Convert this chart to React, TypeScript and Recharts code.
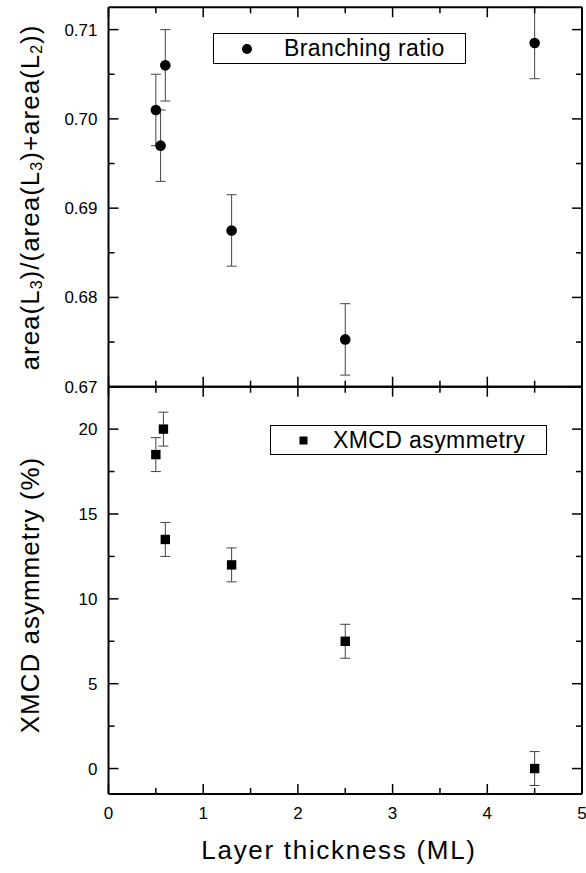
import React from 'react';
import { ScatterChart, Scatter, XAxis, YAxis, ErrorBar, Legend } from 'recharts';

const FONT = '"Liberation Sans", Arial, Helvetica, sans-serif';

// ---- data ----
const thicknessBR = [0.5, 0.55, 0.6, 1.3, 2.5, 4.5];
const branchingRatio = [0.701, 0.697, 0.706, 0.6875, 0.6753, 0.7085];
const branchingErr = [0.004, 0.004, 0.004, 0.004, 0.004, 0.004];

const thicknessXM = [0.5, 0.58, 0.6, 1.3, 2.5, 4.5];
const xmcdAsym = [18.5, 20, 13.5, 12, 7.5, 0];
const xmcdErr = [1, 1, 1, 1, 1, 1];

const xTicks = [0, 0.5, 1, 1.5, 2, 2.5, 3, 3.5, 4, 4.5, 5];
const xMajor = [0, 1, 2, 3, 4, 5];
const brTicks = [0.67, 0.675, 0.68, 0.685, 0.69, 0.695, 0.7, 0.705, 0.71];
const brMajor = [0.67, 0.68, 0.69, 0.7, 0.71];
const xmTicks = [0, 2.5, 5, 7.5, 10, 12.5, 15, 17.5, 20];
const xmMajor = [0, 5, 10, 15, 20];

const xDomain = [0, 5];
const brDomain = [0.67, 0.7125];
const xmDomain = [-1.5, 22.5];

const brData = thicknessBR.map((x, i) => ({ x, y: branchingRatio[i], err: branchingErr[i] }));
const xmData = thicknessXM.map((x, i) => ({ x, y: xmcdAsym[i], err: xmcdErr[i] }));

const isMajor = (v: number, majors: number[]) => majors.some((m) => Math.abs(m - v) < 1e-9);

const MAJ = 10;
const MIN = 6;

type Side = 'bottom' | 'top' | 'left' | 'right';

const makeTick =
  (side: Side, majors: number[], fmt?: (v: number) => string) =>
  (props: any) => {
    const { x, y, payload } = props;
    const v = payload.value as number;
    const major = isMajor(v, majors);
    const len = major ? MAJ : MIN;
    let line;
    let label = null;
    if (side === 'bottom') {
      line = <line x1={x} x2={x} y1={y} y2={y - len} stroke="#000" strokeWidth={1.5} />;
      if (fmt && major)
        label = (
          <text x={x} y={y + 25} textAnchor="middle" fontSize={17} fontFamily={FONT} fill="#000">
            {fmt(v)}
          </text>
        );
    } else if (side === 'top') {
      line = <line x1={x} x2={x} y1={y} y2={y + len} stroke="#000" strokeWidth={1.5} />;
    } else if (side === 'left') {
      line = <line x1={x} x2={x + len} y1={y} y2={y} stroke="#000" strokeWidth={1.5} />;
      if (fmt && major)
        label = (
          <text x={x - 11} y={y + 6} textAnchor="end" fontSize={17} fontFamily={FONT} fill="#000">
            {fmt(v)}
          </text>
        );
    } else {
      line = <line x1={x} x2={x - len} y1={y} y2={y} stroke="#000" strokeWidth={1.5} />;
    }
    return (
      <g>
        {line}
        {label}
      </g>
    );
  };

const circleShape = (p: any) => <circle cx={p.cx} cy={p.cy} r={5.3} fill="#000" />;
const squareShape = (p: any) => <rect x={p.cx - 4.7} y={p.cy - 4.7} width={9.4} height={9.4} fill="#000" />;

const axisLine = { stroke: '#000', strokeWidth: 2 };

const LegendBox = ({ width, height, marker, text }: any) => (
  <div
    style={{
      boxSizing: 'border-box',
      width,
      height,
      border: '1.5px solid #000',
      background: '#fff',
      display: 'flex',
      alignItems: 'center',
      fontFamily: FONT,
      fontSize: 23,
      color: '#000',
      letterSpacing: 0.4,
      whiteSpace: 'nowrap',
    }}
  >
    <svg width={70} height={height - 3} style={{ flex: 'none' }}>
      {marker === 'circle' ? (
        <circle cx={33} cy={(height - 3) / 2} r={5} fill="#000" />
      ) : (
        <rect x={28.5} y={(height - 3) / 2 - 4} width={8} height={8} fill="#000" />
      )}
    </svg>
    <span style={{ marginLeft: marker === 'circle' ? 0 : -8 }}>{text}</span>
  </div>
);

const yLabelTop = () => (
  <text
    transform="translate(30,197.5) rotate(-90)"
    textAnchor="middle"
    dominantBaseline="central"
    fontSize={26}
    letterSpacing={1}
    fontFamily={FONT}
    fill="#000"
  >
    area(L<tspan fontSize={16} dy={6}>3</tspan>
    <tspan dy={-6}>)/(area(L</tspan>
    <tspan fontSize={16} dy={6}>3</tspan>
    <tspan dy={-6}>)+area(L</tspan>
    <tspan fontSize={16} dy={6}>2</tspan>
    <tspan dy={-6}>))</tspan>
  </text>
);

const yLabelBottom = () => (
  <text
    transform="translate(30,595) rotate(-90)"
    textAnchor="middle"
    dominantBaseline="central"
    fontSize={26}
    letterSpacing={1}
    fontFamily={FONT}
    fill="#000"
  >
    XMCD asymmetry (%)
  </text>
);

const xLabel = () => (
  <text x={339} y={859} textAnchor="middle" fontSize={26} letterSpacing={1.7} fontFamily={FONT} fill="#000">
    Layer thickness (ML)
  </text>
);

export default function App() {
  return (
    <div style={{ position: 'absolute', left: 0, top: 0, width: 586, height: 873, background: '#fff' }}>
      <div style={{ position: 'absolute', left: 0, top: 0 }}>
        <ScatterChart width={586} height={873} margin={{ top: 3.3, left: 48.5, right: 0, bottom: 476.3 }}>
          <XAxis
            xAxisId="b"
            type="number"
            dataKey="x"
            domain={xDomain}
            ticks={xTicks}
            interval={0}
            allowDataOverflow
            height={10}
            tickSize={0}
            tickMargin={0}
            tickLine={false}
            axisLine={axisLine}
            tick={makeTick('bottom', xMajor)}
          />
          <XAxis
            xAxisId="t"
            orientation="top"
            type="number"
            dataKey="x"
            domain={xDomain}
            ticks={xTicks}
            interval={0}
            allowDataOverflow
            height={4}
            tickSize={0}
            tickMargin={0}
            tickLine={false}
            axisLine={axisLine}
            tick={makeTick('top', xMajor)}
          />
          <YAxis
            yAxisId="l"
            type="number"
            dataKey="y"
            domain={brDomain}
            ticks={brTicks}
            interval={0}
            allowDataOverflow
            width={60}
            tickSize={0}
            tickMargin={0}
            tickLine={false}
            axisLine={axisLine}
            tick={makeTick('left', brMajor, (v) => v.toFixed(2))}
            label={yLabelTop}
          />
          <YAxis
            yAxisId="r"
            orientation="right"
            type="number"
            dataKey="y"
            domain={brDomain}
            ticks={brTicks}
            interval={0}
            allowDataOverflow
            width={4}
            tickSize={0}
            tickMargin={0}
            tickLine={false}
            axisLine={axisLine}
            tick={makeTick('right', brMajor)}
          />
          <Scatter
            data={brData}
            xAxisId="b"
            yAxisId="l"
            shape={circleShape}
            isAnimationActive={false}
          >
            <ErrorBar dataKey="err" direction="y" width={5} stroke="#444" strokeWidth={1} />
          </Scatter>
          <Scatter data={brData} xAxisId="t" yAxisId="r" shape={() => <g />} isAnimationActive={false} />
          <Legend
            layout="horizontal"
            verticalAlign="middle"
            align="center"
            wrapperStyle={{ position: 'absolute', left: 213, top: 33, width: 253, height: 31, margin: 0, padding: 0 }}
            content={() => <LegendBox width={253} height={31} marker="circle" text="Branching ratio" />}
          />
        </ScatterChart>
      </div>
      <div style={{ position: 'absolute', left: 0, top: 0 }}>
        <ScatterChart width={586} height={873} margin={{ top: 382.7, left: 48.5, right: 0, bottom: 19 }}>
          <XAxis
            xAxisId="b"
            type="number"
            dataKey="x"
            domain={xDomain}
            ticks={xTicks}
            interval={0}
            allowDataOverflow
            height={60}
            tickSize={0}
            tickMargin={0}
            tickLine={false}
            axisLine={axisLine}
            tick={makeTick('bottom', xMajor, (v) => String(v))}
            label={xLabel}
          />
          <XAxis
            xAxisId="t"
            orientation="top"
            type="number"
            dataKey="x"
            domain={xDomain}
            ticks={xTicks}
            interval={0}
            allowDataOverflow
            height={4}
            tickSize={0}
            tickMargin={0}
            tickLine={false}
            axisLine={axisLine}
            tick={makeTick('top', xMajor)}
          />
          <YAxis
            yAxisId="l"
            type="number"
            dataKey="y"
            domain={xmDomain}
            ticks={xmTicks}
            interval={0}
            allowDataOverflow
            width={60}
            tickSize={0}
            tickMargin={0}
            tickLine={false}
            axisLine={axisLine}
            tick={makeTick('left', xmMajor, (v) => String(v))}
            label={yLabelBottom}
          />
          <YAxis
            yAxisId="r"
            orientation="right"
            type="number"
            dataKey="y"
            domain={xmDomain}
            ticks={xmTicks}
            interval={0}
            allowDataOverflow
            width={4}
            tickSize={0}
            tickMargin={0}
            tickLine={false}
            axisLine={axisLine}
            tick={makeTick('right', xmMajor)}
          />
          <Scatter
            data={xmData}
            xAxisId="b"
            yAxisId="l"
            shape={squareShape}
            isAnimationActive={false}
          >
            <ErrorBar dataKey="err" direction="y" width={5} stroke="#444" strokeWidth={1} />
          </Scatter>
          <Scatter data={xmData} xAxisId="t" yAxisId="r" shape={() => <g />} isAnimationActive={false} />
          <Legend
            layout="horizontal"
            verticalAlign="middle"
            align="center"
            wrapperStyle={{ position: 'absolute', left: 270, top: 425, width: 277, height: 30, margin: 0, padding: 0 }}
            content={() => <LegendBox width={277} height={30} marker="square" text="XMCD asymmetry" />}
          />
        </ScatterChart>
      </div>
    </div>
  );
}
